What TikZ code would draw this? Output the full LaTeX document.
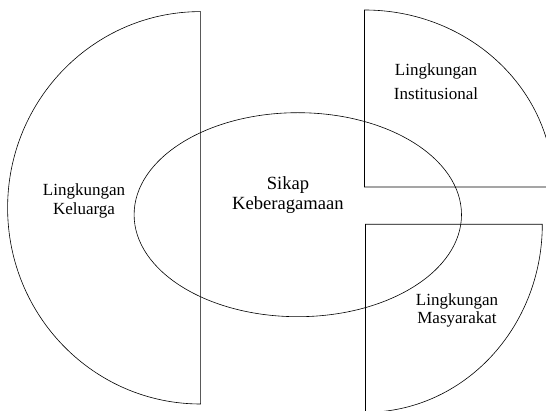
\documentclass[tikz,border=0pt]{standalone}
\usepackage{fontspec}
\setmainfont{Liberation Serif}
\usepackage{tikz}
\usetikzlibrary{positioning}
\tikzstyle{region} = [draw, line width=0.6pt]
\tikzstyle{label} = [align=center, font=\fontsize{17}{19}\selectfont]

\begin{document}
\begin{tikzpicture}[x=1pt, y=-1pt]
          \useasboundingbox (0,0) rectangle (546,411);
          \clip (0,0) rectangle (546,411);

          % areas
          \coordinate (kel) at (200.6,404);
          \coordinate (ins) at (364.5,187);
          \coordinate (mas) at (365.5,224.3);

          \draw[region] (kel) arc[start angle=90, end angle=270, x radius=193, y radius=196.2] -- cycle;
          \draw[region] (ins) -- ++(0,-177) arc[start angle=270, end angle=360, x radius=189, y radius=177] -- cycle;
          \draw[region] (mas) -- ++(176.8,0) arc[start angle=0, end angle=90, x radius=176.8, y radius=188] -- cycle;
          \draw[region] (297.8,214.7) ellipse[x radius=163.7, y radius=102];

          % texts
          \node[label] (keluarga) at (84,201) {Lingkungan\\Keluarga};
          \node[label, font=\fontsize{18.6}{20}\selectfont] (sikap) at (288,195) {Sikap\\Keberagamaan};
          \node[label, font=\fontsize{17}{24}\selectfont] (institusi) at (436,82) {Lingkungan\\Institusional};
          \node[label, font=\fontsize{17}{18}\selectfont] (masyarakat) at (457,310) {Lingkungan\\Masyarakat};
\end{tikzpicture}
\end{document}
